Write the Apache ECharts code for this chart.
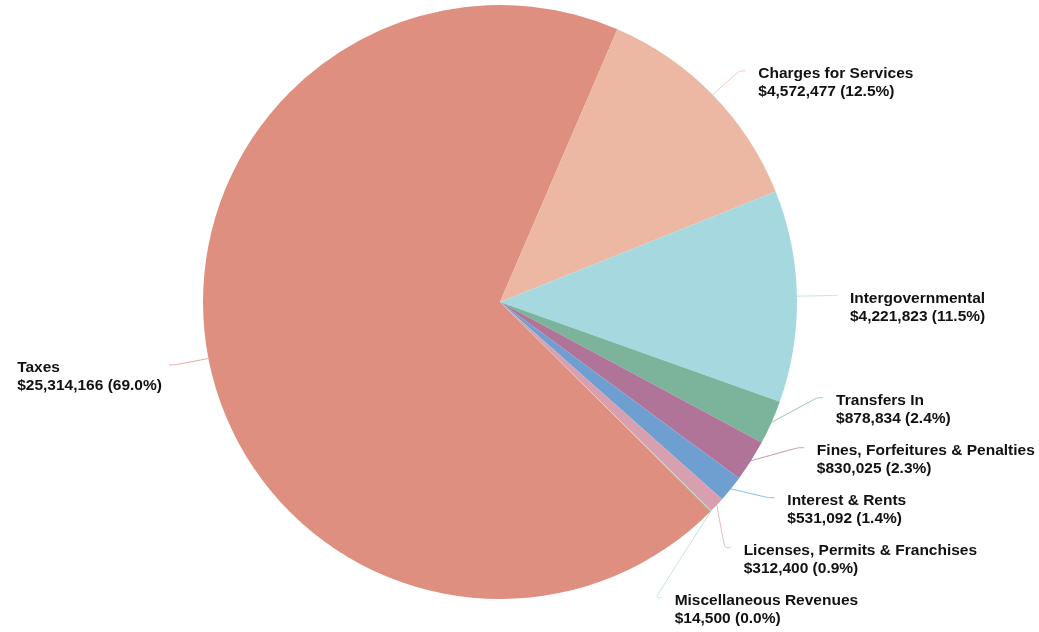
<!DOCTYPE html>
<html><head><meta charset="utf-8">
<script src="https://cdn.jsdelivr.net/npm/echarts@6/dist/echarts.min.js"></script>
<style>html,body{margin:0;padding:0;background:#fff}#c{width:1039px;height:632px}</style>
</head><body><div id="c"></div>
<script>
const categories = ["Taxes","Charges for Services","Intergovernmental","Transfers In","Fines, Forfeitures & Penalties","Interest & Rents","Licenses, Permits & Franchises","Miscellaneous Revenues"];
const values = [25314166,4572477,4221823,878834,830025,531092,312400,14500];
const colors = ["#de8f80","#ecb8a3","#a6d9df","#7bb39b","#b07499","#6f9fd1","#d8a0ae","#a8dccb"];
const total = values.reduce((a,b)=>a+b,0);

const CX = 500, CY = 302, RAD = 297, LEN = 34, LEN2 = 6, DIST_R = 13, DIST_L = 7, START = -44.8, LABEL_H = 50;

// label anchor placement: each label starts at its slice's mid-angle, then overlapping
// labels on the same side are spread evenly around their mean (balanced stacking).
function computeLabelAnchors(){
  const R1 = RAD + LEN;
  let a = 90 - START; // clockwise degrees from 12 o'clock
  const items = values.map((v,i)=>{
    const span = v/total*360, mid = (a + span/2) * Math.PI/180;
    a += span;
    return {i, dir: Math.sin(mid) >= 0 ? 1 : -1, y: CY - R1*Math.cos(mid)};
  });
  const out = {};
  [1,-1].forEach(dir=>{
    const list = items.filter(t=>t.dir===dir).sort((p,q)=>p.y-q.y);
    let clusters = list.map(t=>({members:[t], sum:t.y}));
    const top = c => c.sum/c.members.length - (c.members.length-1)*LABEL_H/2;
    let merged = true;
    while(merged){
      merged = false;
      for(let k=0;k<clusters.length-1;k++){
        const c1 = clusters[k], c2 = clusters[k+1];
        if(top(c1) + c1.members.length*LABEL_H > top(c2)){
          clusters.splice(k,2,{members:c1.members.concat(c2.members), sum:c1.sum + c2.sum});
          merged = true; break;
        }
      }
    }
    clusters.forEach(c=>{
      const t0 = top(c);
      c.members.forEach((t,j)=>{ out[t.i] = {dir, y: c.members.length>1 ? t0 + j*LABEL_H : t.y}; });
    });
  });
  return out;
}
const anchors = computeLabelAnchors();

const chart = echarts.init(document.getElementById('c'));
const base = {fontFamily:'Liberation Sans, Arial, sans-serif',fontWeight:'bold',fontSize:15.5,color:'#111',align:'left'};
chart.setOption({
  animation:false,
  series:[{
    type:'pie',
    center:[CX,CY],
    radius:RAD,
    startAngle:START,
    clockwise:true,
    data: categories.map((n,i)=>({name:n,value:values[i],itemStyle:{color:colors[i]},labelLine:{lineStyle:{color:colors[i],opacity:0.75}}})),
    label:{
      show:true,
      formatter:p=>'{a|'+p.name+'}\n{b|$'+p.value.toLocaleString('en-US')+' ('+(p.value/total*100).toFixed(1)+'%)}',
      rich:{a:{...base,lineHeight:28},b:{...base,lineHeight:8}},
      ...base,
      padding:[14,0,0,0],
      distanceToLabelLine:DIST_R
    },
    labelLine:{show:true,length:LEN,length2:LEN2,smooth:true,lineStyle:{width:1}},
    labelLayout:function(p){
      const pts = p.labelLinePoints;
      const an = anchors[p.dataIndex];
      if(!pts || pts.length<3 || !an) return {};
      const dir = an.dir, y = an.y;
      const R = RAD+LEN+LEN2;
      const dy = y-CY;
      const ex = CX + dir*Math.sqrt(Math.max(0, R*R-dy*dy));
      return {
        x: ex + dir*(dir>0 ? DIST_R : DIST_L),
        y: y,
        labelLinePoints:[pts[0].slice(),[ex-dir*LEN2,y],[ex,y]]
      };
    },
    itemStyle:{borderWidth:0}
  }]
});
</script></body></html>
